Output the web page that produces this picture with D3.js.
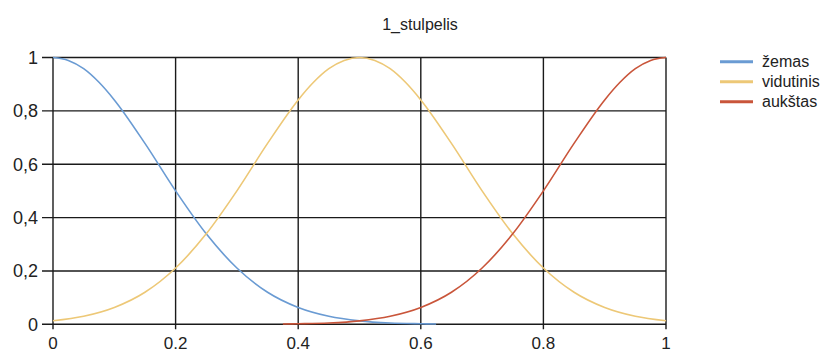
<!DOCTYPE html>
<html>
<head>
<meta charset="utf-8">
<script src="https://cdn.jsdelivr.net/npm/d3@7/dist/d3.min.js"></script>
<style>
  html, body { margin: 0; padding: 0; background: #fff; }
  svg { display: block; }
  text { font-family: "Liberation Sans", Arial, sans-serif; fill: #222; }
</style>
</head>
<body>
<svg id="chart" width="825" height="353"></svg>
<script>
// Membership functions for "1_stulpelis"
const chartTitle = "1_stulpelis";

const zemasX = [0, 0.025, 0.05, 0.075, 0.1, 0.15, 0.2, 0.25, 0.3, 0.35, 0.4, 0.45, 0.5, 0.55, 0.6, 0.625];
const zemasY = [1, 0.989, 0.958, 0.907, 0.841, 0.678, 0.5, 0.339, 0.211, 0.12, 0.063, 0.03, 0.013, 0.005, 0.002, 0.001];

const vidutinisX = [0, 0.05, 0.1, 0.15, 0.2, 0.25, 0.3, 0.35, 0.4, 0.425, 0.45, 0.475, 0.5,
                    0.525, 0.55, 0.575, 0.6, 0.65, 0.7, 0.75, 0.8, 0.85, 0.9, 0.95, 1];
const vidutinisY = [0.013, 0.03, 0.063, 0.12, 0.211, 0.339, 0.5, 0.678, 0.841, 0.907, 0.958, 0.989, 1,
                    0.989, 0.958, 0.907, 0.841, 0.678, 0.5, 0.339, 0.211, 0.12, 0.063, 0.03, 0.013];

const aukstasX = [0.375, 0.4, 0.45, 0.5, 0.55, 0.6, 0.65, 0.7, 0.75, 0.8, 0.85, 0.9, 0.925, 0.95, 0.975, 1];
const aukstasY = [0.001, 0.002, 0.005, 0.013, 0.03, 0.063, 0.12, 0.211, 0.339, 0.5, 0.678, 0.841, 0.907, 0.958, 0.989, 1];

const seriesNames = ["žemas", "vidutinis", "aukštas"];
const seriesColors = ["#6a9bd3", "#edc877", "#c9553a"];

const xTicks = [0, 0.2, 0.4, 0.6, 0.8, 1];
const xTickLabels = ["0", "0.2", "0.4", "0.6", "0.8", "1"];
const yTicks = [0, 0.2, 0.4, 0.6, 0.8, 1];
const yTickLabels = ["0", "0,2", "0,4", "0,6", "0,8", "1"];

const series = [
  { name: seriesNames[0], color: seriesColors[0], pts: zemasX.map((x, i) => [x, zemasY[i]]) },
  { name: seriesNames[1], color: seriesColors[1], pts: vidutinisX.map((x, i) => [x, vidutinisY[i]]) },
  { name: seriesNames[2], color: seriesColors[2], pts: aukstasX.map((x, i) => [x, aukstasY[i]]) }
];

const svg = d3.select("#chart");
const plot = { left: 53, right: 666, top: 57.5, bottom: 324.3 };

const x = d3.scaleLinear().domain([0, 1]).range([plot.left, plot.right]);
const y = d3.scaleLinear().domain([0, 1]).range([plot.bottom, plot.top]);

// title
svg.append("text")
  .attr("x", 420).attr("y", 30)
  .attr("text-anchor", "middle")
  .style("font-size", "16px")
  .text(chartTitle);

// grid
const grid = svg.append("g").attr("stroke", "#1a1a1a").attr("stroke-width", 1.4);
grid.selectAll(".vx").data(xTicks).join("line")
  .attr("x1", d => x(d)).attr("x2", d => x(d))
  .attr("y1", plot.top).attr("y2", plot.bottom + 5);
grid.selectAll(".hy").data(yTicks).join("line")
  .attr("x1", plot.left - 11).attr("x2", plot.right)
  .attr("y1", d => y(d)).attr("y2", d => y(d));

// axis labels
svg.append("g").selectAll("text").data(yTicks).join("text")
  .attr("x", plot.left - 15)
  .attr("y", d => y(d))
  .attr("dy", "0.36em")
  .attr("text-anchor", "end")
  .style("font-size", "18px")
  .text((d, i) => yTickLabels[i]);

svg.append("g").selectAll("text").data(xTicks).join("text")
  .attr("x", d => x(d))
  .attr("y", 349)
  .attr("text-anchor", "middle")
  .style("font-size", "17px")
  .text((d, i) => xTickLabels[i]);

// curves
const line = d3.line()
  .x(d => x(d[0]))
  .y(d => y(d[1]))
  .curve(d3.curveMonotoneX);

svg.append("g").selectAll("path").data(series).join("path")
  .attr("fill", "none")
  .attr("stroke", d => d.color)
  .attr("stroke-width", 1.6)
  .attr("d", d => line(d.pts));

// legend
const legend = svg.append("g").attr("transform", "translate(720, 61.7)");
const rows = legend.selectAll("g").data(series).join("g")
  .attr("transform", (d, i) => `translate(0, ${i * 20})`);
rows.append("line")
  .attr("x1", 0).attr("x2", 33)
  .attr("stroke", d => d.color)
  .attr("stroke-width", 3);
rows.append("text")
  .attr("x", 42).attr("dy", "0.35em")
  .style("font-size", "16px")
  .text(d => d.name);
</script>
</body>
</html>
